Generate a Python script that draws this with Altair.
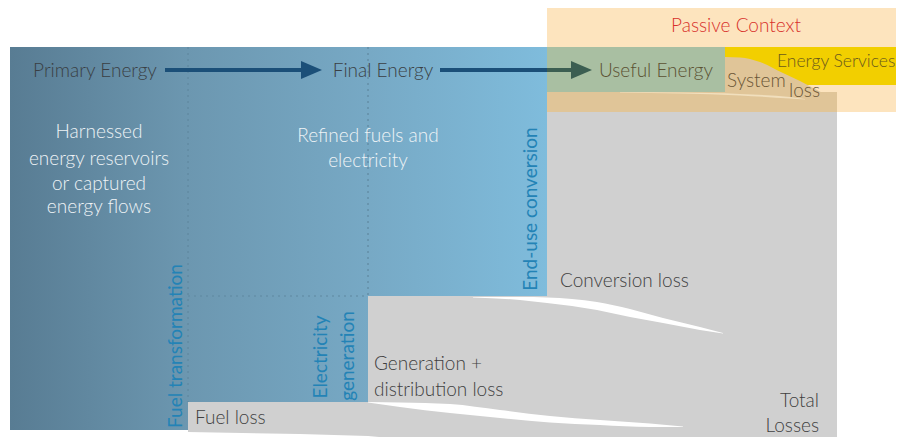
import altair as alt
import pandas as pd

# ---------------- canvas (reference pixel coordinates) ----------------
W, H = 888, 429
X0, Y0 = 8, 8
xs = alt.Scale(domain=[X0, X0 + W], nice=False, zero=False)
ys = alt.Scale(domain=[Y0, Y0 + H], nice=False, zero=False, reverse=True)
FONT = "Lato"

# ---------------- region data ----------------
# passive context box
peach_box = {"x": [547], "x2": [904], "y": [8], "y2": [112]}
# grey losses region (top edge / bottom edge)
loss_x = [188, 300, 368, 368.01, 390, 450, 500, 547, 547.01, 837]
loss_top = [402, 402, 402, 296, 296, 296, 296, 296, 112, 112]
loss_bot = [432, 434, 436, 436, 438, 442, 443, 443, 443, 443]
# blue energy-chain region
blue_x = [10, 188, 188.01, 368, 368.01, 547]
blue_top = [47, 47, 47, 47, 47, 47]
blue_bot = [430, 430, 402, 402, 296, 296]
# white gaps between loss flows
conv_gap_x = [473, 520, 547, 597, 630, 663, 700, 723]
conv_gap_top = [297, 297, 297.5, 302, 309, 318, 327, 333]
conv_gap_bot = [297.5, 300, 303, 310, 317, 323, 330, 333.5]
fuel_gap_x = [368, 400, 450, 500, 550, 600, 650, 683]
fuel_gap_top = [402, 402.5, 404, 410, 416, 420, 423.5, 426.5]
fuel_gap_bot = [402.5, 407, 413, 418, 422.5, 425, 427, 427]
# useful energy / services / system loss
useful_box = {"x": [547], "x2": [725], "y": [47], "y2": [92]}
tan_strip = {"x": [547], "x2": [837], "y": [92], "y2": [112]}
services_box = {"x": [725], "x2": [904], "y": [47], "y2": [85]}
sysloss_x = [725, 740, 760, 783, 800, 817, 830, 837]
sysloss_top = [57, 57.5, 62, 73, 81, 90, 97, 100]
sysloss_bot = [112] * 8
streak_x = [620, 680, 740, 790, 805]
streak_top = [92, 92.6, 94, 97, 99]
streak_bot = [92.4, 93.6, 95.4, 98.6, 99.6]
# dotted stage dividers
dividers = {"x": [188, 368, 188], "x2": [188, 368, 368],
            "y": [47, 47, 296], "y2": [402, 296, 296]}
# arrows
shaft1 = {"x": [165], "x2": [304], "y": [70], "y2": [70]}
shaft2a = {"x": [440], "x2": [547], "y": [70], "y2": [70]}
shaft2b = {"x": [547], "x2": [574], "y": [70], "y2": [70]}
head1_x, head1_top, head1_bot = [301, 322], [61, 70], [79, 70]
head2_x, head2_top, head2_bot = [571, 592], [61, 70], [79, 70]

# ---------------- text data ----------------
center_txt = ["Primary Energy", "Final Energy", "Useful Energy", "Passive Context",
              "Harnessed", "energy reservoirs", "or captured", "energy flows",
              "Refined fuels and", "electricity"]
center_x = [95, 383, 656, 736, 99, 99, 99, 99, 368, 368]
center_y = [77, 77, 77, 32, 138, 165, 190, 213, 142, 167]
center_c = ["#3a3f44", "#3a3f44", "#5b5232", "#d8312b",
            "#eef3f6", "#eef3f6", "#eef3f6", "#eef3f6", "#eef3f6", "#eef3f6"]

left_txt = ["System", "loss", "Conversion loss",
            "Generation +", "distribution loss", "Fuel loss"]
left_x = [727, 789, 560, 374, 374, 195]
left_y = [87, 97, 287, 370, 396, 424]
left_c = ["#6a5636", "#6a5636", "#404040", "#404040", "#404040", "#404040"]

services_txt = ["Energy Services"]
services_x = [777]
services_y = [67]

right_txt = ["Total", "Losses"]
right_x = [819, 819]
right_y = [407, 432]

vert_txt = ["End-use conversion", "Fuel transformation", "Electricity", "generation"]
vert_x = [531, 176, 321, 348]
vert_y = [209, 346, 357, 356]

# ---------------- helpers ----------------
def rect(d, color, opacity=1.0):
    return alt.Chart(pd.DataFrame(d)).mark_rect(color=color, opacity=opacity).encode(
        x=alt.X("x:Q", scale=xs, axis=None), x2="x2:Q",
        y=alt.Y("y:Q", scale=ys, axis=None), y2="y2:Q")

def area(xv, top, bot, color, interp="linear"):
    df = pd.DataFrame({"x": xv, "y": top, "y2": bot})
    return alt.Chart(df).mark_area(color=color, interpolate=interp).encode(
        x=alt.X("x:Q", scale=xs, axis=None),
        y=alt.Y("y:Q", scale=ys, axis=None), y2="y2:Q")

def rule(d, color, width=1.0, dash=None):
    kw = dict(color=color, strokeWidth=width)
    if dash:
        kw["strokeDash"] = dash
    return alt.Chart(pd.DataFrame(d)).mark_rule(**kw).encode(
        x=alt.X("x:Q", scale=xs, axis=None), x2="x2:Q",
        y=alt.Y("y:Q", scale=ys, axis=None), y2="y2:Q")

def texts(t, xv, yv, colors, align, baseline="alphabetic", angle=0, size=19, weight=300):
    df = pd.DataFrame({"t": t, "x": xv, "y": yv, "c": colors})
    return alt.Chart(df).mark_text(font=FONT, fontSize=size, fontWeight=weight, align=align,
                                   baseline=baseline, angle=angle).encode(
        x=alt.X("x:Q", scale=xs, axis=None),
        y=alt.Y("y:Q", scale=ys, axis=None),
        text="t:N", color=alt.Color("c:N", scale=None))

blue_grad = alt.Gradient(
    gradient="linear",
    stops=[alt.GradientStop(offset=0, color="#587c93"),
           alt.GradientStop(offset=0.33, color="#6c97b0"),
           alt.GradientStop(offset=0.67, color="#77a9c5"),
           alt.GradientStop(offset=1, color="#7fbcdc")],
    x1=0, x2=1, y1=0, y2=0)

blue = alt.Chart(pd.DataFrame({"x": blue_x, "y": blue_top, "y2": blue_bot})).mark_area(
    color=blue_grad, interpolate="linear").encode(
    x=alt.X("x:Q", scale=xs, axis=None),
    y=alt.Y("y:Q", scale=ys, axis=None), y2="y2:Q")

GREY = "#d0d0d0"
layers = [
    rect(peach_box, "#fde4be"),
    area(loss_x, loss_top, loss_bot, GREY),
    blue,
    rule(dividers, "#5f889f", 1.2, [2, 4]),
    area(conv_gap_x, conv_gap_top, conv_gap_bot, "#ffffff", "monotone"),
    area(fuel_gap_x, fuel_gap_top, fuel_gap_bot, "#ffffff", "monotone"),
    rect(useful_box, "#a9bfa2"),
    rect(tan_strip, "#e0c598"),
    rect(services_box, "#f2cf00"),
    area(sysloss_x, sysloss_top, sysloss_bot, "#e0c598", "monotone"),
    area(streak_x, streak_top, streak_bot, "#f1dfbd", "monotone"),
    rule(shaft1, "#1b4f78", 4),
    area(head1_x, head1_top, head1_bot, "#1b4f78"),
    rule(shaft2a, "#1b4f78", 4),
    rule(shaft2b, "#3c5e52", 4),
    area(head2_x, head2_top, head2_bot, "#3c5e52"),
    texts(center_txt, center_x, center_y, center_c, "center"),
    texts(left_txt, left_x, left_y, left_c, "left"),
    texts(services_txt, services_x, services_y, ["#6b5a1c"], "left", size=17.5),
    texts(right_txt, right_x, right_y, ["#404040"] * 2, "right"),
    texts(vert_txt, vert_x, vert_y, ["#2383b6"] * 4, "center", "middle", 270, weight=400),
]

chart = alt.layer(*layers).properties(
    width=W, height=H, padding=0,
    autosize=alt.AutoSizeParams(type="none"),
    background="#ffffff",
).configure_view(strokeWidth=0)

chart.save("out.html", embed_options={"renderer": "svg", "actions": False})
